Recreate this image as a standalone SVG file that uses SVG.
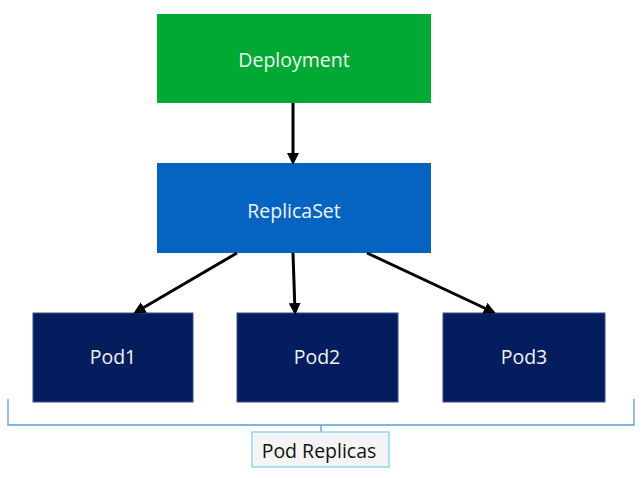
<svg xmlns="http://www.w3.org/2000/svg" width="643" height="478" viewBox="0 0 643 478">
<defs>
<marker id="ah" markerWidth="12" markerHeight="12" refX="9" refY="6" orient="auto" markerUnits="userSpaceOnUse">
<path d="M0,0 L12,6 L0,12 Z" fill="#000"/>
</marker>
<style>
.lbl{font-family:"Open Sans","Liberation Sans",sans-serif;font-size:19.5px;fill:#eef4f0;text-anchor:middle;dominant-baseline:central}
.pod{fill:#041D5E;stroke:#3a4f88;stroke-width:1}
.conn{stroke:#000;stroke-width:3;fill:none;marker-end:url(#ah)}
</style>
</defs>
<rect width="643" height="478" fill="#fff"/>
<g id="deployment">
<rect x="157" y="14" width="274" height="89" fill="#00A933"/>
<text class="lbl" x="294" y="59">Deployment</text>
</g>
<g id="replicaset">
<rect x="157" y="163" width="274" height="90" fill="#0563C1"/>
<text class="lbl" x="294" y="210">ReplicaSet</text>
</g>
<g id="pod1">
<rect class="pod" x="33" y="313" width="160" height="89"/>
<text class="lbl" x="113" y="356">Pod1</text>
</g>
<g id="pod2">
<rect class="pod" x="237" y="313" width="161" height="89"/>
<text class="lbl" x="317" y="356">Pod2</text>
</g>
<g id="pod3">
<rect class="pod" x="443" y="313" width="162" height="89"/>
<text class="lbl" x="524" y="356">Pod3</text>
</g>
<g id="connectors">
<line class="conn" x1="293" y1="103" x2="293" y2="162"/>
<line class="conn" x1="237" y1="253" x2="136" y2="312"/>
<line class="conn" x1="293" y1="253" x2="295" y2="312"/>
<line class="conn" x1="367" y1="253" x2="493" y2="312"/>
</g>
<g id="pod-replicas">
<path d="M8,399 V425 H634 V399 M321,425 V432" fill="none" stroke="#5B9BD5" stroke-width="1.3"/>
<rect x="252" y="432" width="137" height="35" fill="#f4f4f4" stroke="#7fd3ee" stroke-width="1.3"/>
<text x="319" y="450" font-family="Open Sans, Liberation Sans, sans-serif" font-size="19.5" fill="#111" text-anchor="middle" dominant-baseline="central">Pod Replicas</text>
</g>
</svg>
